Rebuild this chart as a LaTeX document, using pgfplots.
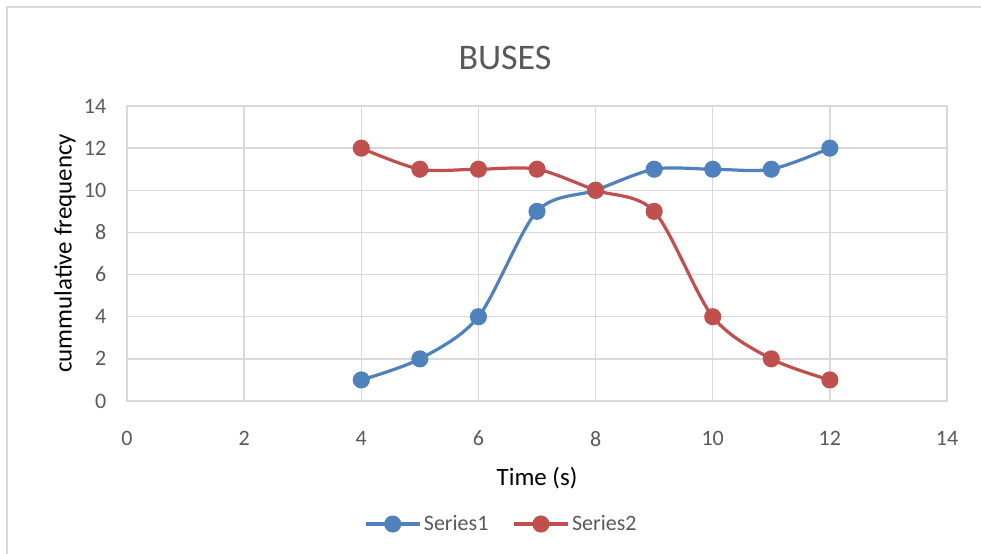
\documentclass[border=0pt]{standalone}
\usepackage{fontspec}
\setmainfont{Carlito}
\usepackage{pgfplots}
\pgfplotsset{compat=1.18}
\definecolor{sone}{RGB}{79,129,189}
\definecolor{stwo}{RGB}{192,80,77}
\definecolor{gridc}{RGB}{217,217,217}
\definecolor{txtc}{RGB}{89,89,89}
\begin{document}
\begin{tikzpicture}
\useasboundingbox (0pt,0pt) rectangle (735.75pt,414.75pt);
\begin{scope}
\clip (0pt,0pt) rectangle (735.75pt,414.75pt);
\draw[gridc, line width=1.5pt] (5.25pt,-15pt) rectangle (760pt,409.5pt);
\end{scope}
\node[text=txtc, font=\fontsize{27}{31}\selectfont] at (378.75pt,371.25pt) {BUSES};
\begin{axis}[
  at={(95.25pt,114pt)}, anchor=south west,
  width=615pt, height=221.25pt, scale only axis,
  xmin=0, xmax=14, ymin=0, ymax=14,
  xtick={0,2,...,14}, ytick={0,2,...,14},
  grid=major,
  major grid style={gridc, line width=1pt},
  axis line style={gridc, line width=1pt},
  tick style={draw=none},
  /pgf/number format/assume math mode=true,
  ticklabel style={text=txtc, font=\fontsize{16.5}{19}\selectfont},
  xticklabel style={yshift=-19pt},
  yticklabel style={xshift=-12pt},
  xlabel={Time (s)},
  ylabel={cummulative frequency},
  label style={font=\fontsize{18.7}{21}\selectfont, text=black},
  xlabel style={at={(axis description cs:0.5,-0.261)}, anchor=center},
  ylabel style={at={(axis description cs:-0.0756,0.5)}, anchor=center, rotate=0},
  legend columns=2,
  legend style={at={(axis description cs:0.457,-0.417)}, anchor=center, draw=none, fill=none,
    font=\fontsize{16.5}{19}\selectfont, text=txtc, /tikz/every even column/.append style={column sep=16pt}},
  legend image code/.code={\draw[#1, mark repeat=2, mark phase=2] plot coordinates {(0cm,0cm) (0.71cm,0cm) (1.42cm,0cm)};},
]
\addplot[sone, line width=2.4pt, smooth, tension=0.5, mark=*, mark size=5.2pt, mark options={solid}] coordinates {
(4,1) (5,2) (6,4) (7,9) (8,10) (9,11) (10,11) (11,11) (12,12)};
\addlegendentry{Series1}
\addplot[stwo, line width=2.4pt, smooth, tension=0.5, mark=*, mark size=5.2pt, mark options={solid}] coordinates {
(4,12) (5,11) (6,11) (7,11) (8,10) (9,9) (10,4) (11,2) (12,1)};
\addlegendentry{Series2}
\end{axis}
\end{tikzpicture}
\end{document}
